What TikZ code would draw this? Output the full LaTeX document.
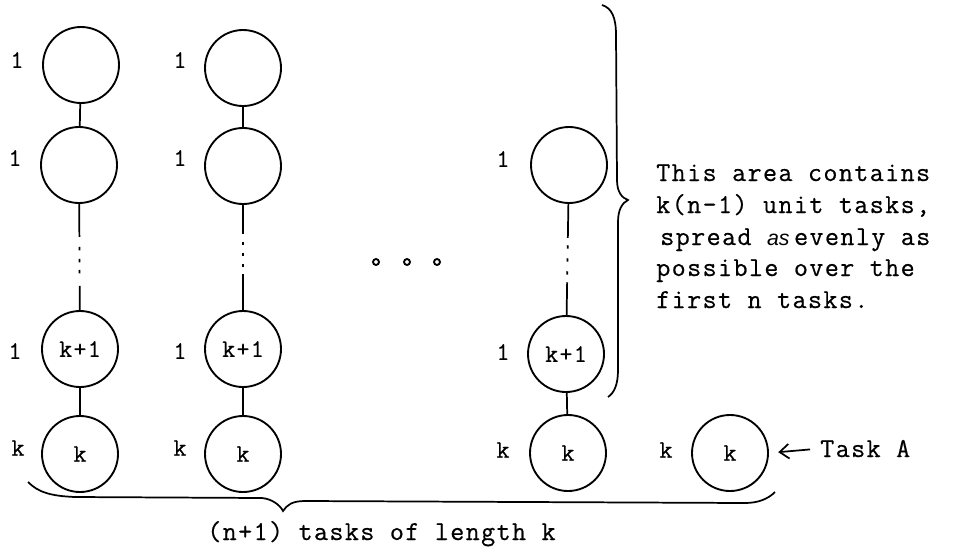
\documentclass[tikz,border=0pt]{standalone}
\usepackage{fontspec}
\setmonofont{Latin Modern Mono}[LetterSpace=5,FakeBold=0.5]
\newfontfamily\itsansfont{Liberation Sans}
\usetikzlibrary{arrows.meta}
\begin{document}
\begin{tikzpicture}[x=0.75pt,y=-0.75pt,
  task/.style={circle,draw,line width=1.4pt,minimum size=57pt,inner sep=0pt,
    font=\ttfamily\fontsize{19}{20}\selectfont},
  lab/.style={inner sep=0pt,font=\ttfamily\fontsize{19}{20}\selectfont},
  txt/.style={inner sep=0pt,anchor=base west,font=\ttfamily\fontsize{20.5}{24}\selectfont},
  link/.style={line width=1.3pt},
  bracepath/.style={line width=1.3pt},
  ell/.style={circle,draw,line width=1.4pt,minimum size=4.5pt,inner sep=0pt}]
\useasboundingbox (0,0) rectangle (966,546);

% column 1
\node[task] (a1) at (81,65) {};
\node[task] (a2) at (79,165) {};
\node[task] (a3) at (80,349) {k+1};
\node[task] (a4) at (80,454) {k};
\node[lab] (la1) at (17,60) {1};
\node[lab] (la2) at (15,158) {1};
\node[lab] (la3) at (15,351) {1};
\node[lab] (la4) at (18,448) {k};
\draw[link] (a1) -- (a2);
\draw[link,dash pattern=on 24.75pt off 7.5pt on 2.5pt off 6.5pt on 2.5pt off 5.75pt on 2.5pt off 9.5pt on 30pt] (a2) -- (a3);
\draw[link] (a3) -- (a4);

% column 2
\node[task] (b1) at (243,68) {};
\node[task] (b2) at (243,166) {};
\node[task] (b3) at (243,349) {k+1};
\node[task] (b4) at (243,454) {k};
\node[lab] (lb1) at (180,60) {1};
\node[lab] (lb2) at (180,158) {1};
\node[lab] (lb3) at (180,351) {1};
\node[lab] (lb4) at (180,448) {k};
\draw[link] (b1) -- (b2);
\draw[link,dash pattern=on 21.75pt off 6pt on 2.5pt off 5.75pt on 2.5pt off 5.75pt on 2.5pt off 5pt on 40pt] (b2) -- (b3);
\draw[link] (b3) -- (b4);

% middle ellipsis
\node[ell] (d1) at (376,262) {};
\node[ell] (d2) at (407,262) {};
\node[ell] (d3) at (437,262) {};

% column 3
\node[task] (c1) at (569,165) {};
\node[task] (c3) at (566,354) {k+1};
\node[task] (c4) at (568,453) {k};
\node[lab] (lc1) at (503,159) {1};
\node[lab] (lc3) at (503,352) {1};
\node[lab] (lc4) at (503,450) {k};
\draw[link,dash pattern=on 25.5pt off 5.5pt on 2.5pt off 7.25pt on 2.5pt off 7.25pt on 2.5pt off 5.75pt on 40pt] (c1) -- (c3);
\draw[link] (c3) -- (c4);

% task A
\node[task] (tA) at (730,453) {k};
\node[lab] (ltA) at (666,450) {k};
\node[txt] (taskA) at (820,457) {Task A};
\draw[link,-{Straight Barb[length=7pt,width=11pt,line width=1.3pt]},shorten <=7.5pt,shorten >=7pt] (taskA.west) -- (tA.east);

% right brace
\coordinate (rb1) at (602,5);
\coordinate (rbt) at (628,200);
\coordinate (rb2) at (608,397);
\draw[bracepath] (rb1) .. controls (612,8) and (616,18) .. (616,35) -- (617,180)
  .. controls (617,192) and (622,198) .. (rbt)
  .. controls (622,203) and (618,210) .. (618,222) -- (618,370)
  .. controls (618,385) and (614,393) .. (rb2);

% paragraph
\node[txt] (p1) at (656,181) {This area contains};
\node[txt] (p2) at (656,213) {k(n-1) unit tasks,};
\node[txt] (p3) at (660,245) {spread {\itsansfont\itshape\fontsize{16}{20}\selectfont as}\,evenly as};
\node[txt] (p4) at (656,276) {possible over the};
\node[txt] (p5) at (656,308) {first n tasks.};

% bottom brace
\coordinate (bb1) at (28,482);
\coordinate (bbt) at (283,511);
\coordinate (bb2) at (775,492);
\draw[bracepath] (bb1) .. controls (38,492) and (50,496) .. (75,497) -- (262,498)
  .. controls (272,499) and (280,505) .. (bbt)
  .. controls (287,505) and (292,501) .. (305,501) -- (745,503)
  .. controls (758,503) and (768,499) .. (bb2);
\node[txt] (bottom) at (207,540) {(n+1) tasks of length k};
\end{tikzpicture}
\end{document}
